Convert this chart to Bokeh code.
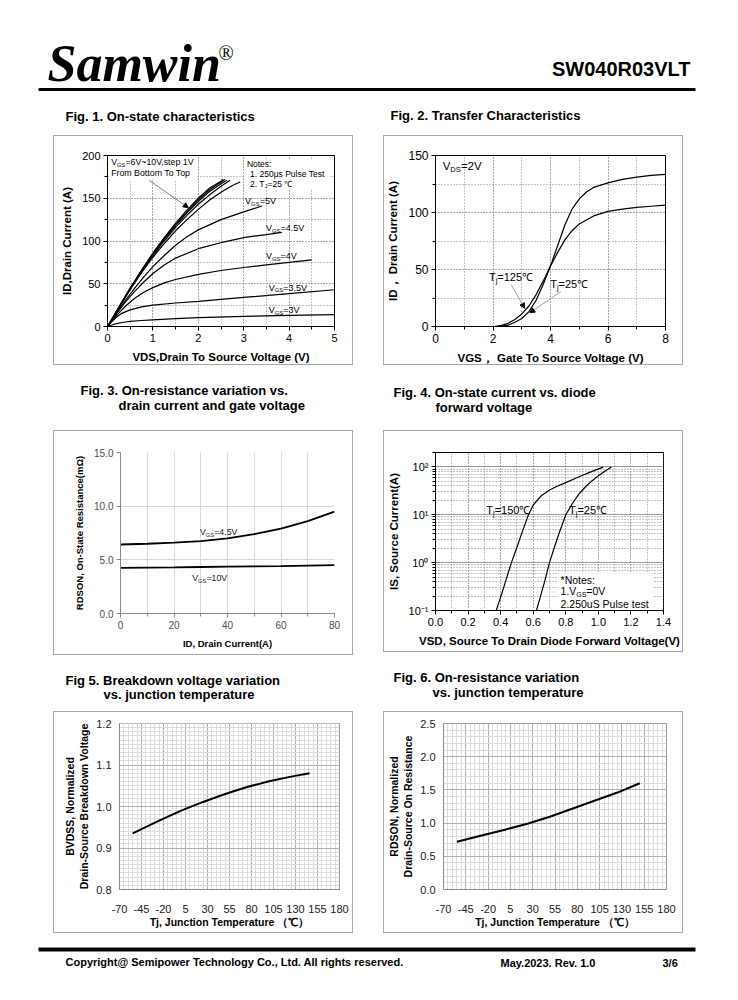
from bokeh.plotting import figure
from bokeh.layouts import column, row
from bokeh.models import (Range1d, Spacer, Arrow, NormalHead, SingleIntervalTicker, FixedTicker,
                          NumeralTickFormatter, CustomJSTickFormatter)
from bokeh.core.properties import value
from bokeh.embed import file_html
from bokeh.resources import INLINE

FONT = "Liberation Sans"

# ---------------- data ----------------
# Fig.1 On-state characteristics: VDS (V) vs ID (A)
f1_vgs3_vds = [0, 0.1, 0.2, 0.35, 0.5, 0.75, 1.0, 1.5, 2.0, 3.0, 4.0, 5.0]
f1_vgs3_id = [0, 1.8, 3.3, 5.0, 6.0, 7.0, 7.8, 9.2, 10.3, 11.8, 12.9, 13.8]
f1_vgs35_vds = [0, 0.1, 0.2, 0.3, 0.5, 0.75, 1.0, 1.5, 2.0, 3.0, 4.0, 5.0]
f1_vgs35_id = [0, 6, 11, 15, 19.5, 23, 25, 27.5, 29.5, 34, 38.5, 43]
f1_vgs4_vds = [0, 0.2, 0.4, 0.6, 0.8, 1.0, 1.25, 1.5, 2.0, 2.5, 3.0, 3.5, 4.0, 4.5]
f1_vgs4_id = [0, 13, 24, 33, 40, 45.5, 51, 55, 61, 65.5, 69, 72, 75, 78]
f1_vgs45_vds = [0, 0.2, 0.4, 0.6, 0.8, 1.0, 1.25, 1.5, 2.0, 2.5, 3.0, 3.5, 3.84]
f1_vgs45_id = [0, 15, 29, 41, 52, 62, 72, 80, 91, 98, 104, 107.5, 110]
f1_vgs5_vds = [0, 0.2, 0.4, 0.6, 0.8, 1.0, 1.25, 1.5, 1.75, 2.0, 2.5, 3.0, 3.4]
f1_vgs5_id = [0, 16, 31, 45, 58, 70, 83, 95, 105, 113, 125, 134, 141]
f1_vgs6_vds = [0, 0.25, 0.5, 0.75, 1.0, 1.25, 1.5, 1.75, 2.0, 2.25, 2.5, 2.75, 2.92]
f1_vgs6_id = [0, 22, 43, 63, 81, 97, 112, 125, 137, 148, 157, 165, 169]
f1_vgs7_vds = [0, 0.25, 0.5, 0.75, 1.0, 1.25, 1.5, 1.75, 2.0, 2.25, 2.5, 2.7]
f1_vgs7_id = [0, 22, 44, 64, 83, 100, 116, 130, 143, 154, 164, 171]
f1_vgs8_vds = [0, 0.25, 0.5, 0.75, 1.0, 1.25, 1.5, 1.75, 2.0, 2.25, 2.5, 2.63]
f1_vgs8_id = [0, 22, 44, 65, 84, 102, 118, 133, 146, 158, 167, 171]
f1_vgs9_vds = [0, 0.25, 0.5, 0.75, 1.0, 1.25, 1.5, 1.75, 2.0, 2.25, 2.5, 2.59]
f1_vgs9_id = [0, 22, 45, 65, 85, 103, 119, 134, 148, 160, 169, 172]
f1_vgs10_vds = [0, 0.25, 0.5, 0.75, 1.0, 1.25, 1.5, 1.75, 2.0, 2.25, 2.5, 2.55]
f1_vgs10_id = [0, 23, 45, 66, 86, 104, 121, 136, 150, 162, 170, 172]

# Fig.2 Transfer characteristics: VGS (V) vs ID (A)
f2_t25_vgs = [2.2, 2.5, 2.75, 3.0, 3.25, 3.5, 3.75, 4.0, 4.25, 4.5, 4.75, 5.0, 5.25, 5.5, 6.0, 6.5, 7.0, 7.5, 8.0]
f2_t25_id = [0, 1, 3.5, 7, 13, 23, 37, 53, 71, 89, 103, 112, 118, 122, 126, 129, 131, 132.5, 133.5]
f2_t125_vgs = [2.05, 2.3, 2.5, 2.75, 3.0, 3.25, 3.5, 3.75, 4.0, 4.25, 4.5, 4.75, 5.0, 5.5, 6.0, 6.5, 7.0, 7.5, 8.0]
f2_t125_id = [0, 1, 2.5, 6, 11, 18, 28, 40, 53, 65, 76, 84, 90, 97, 101, 103, 104.5, 105.5, 106.5]

# Fig.3 RDS(on) vs ID (mOhm)
f3_id = [0, 10, 20, 30, 40, 50, 60, 70, 80]
f3_r_vgs45 = [6.43, 6.5, 6.6, 6.75, 7.0, 7.4, 7.9, 8.6, 9.5]
f3_r_vgs10 = [4.25, 4.28, 4.3, 4.33, 4.36, 4.39, 4.42, 4.46, 4.5]

# Fig.4 Body diode forward: VSD (V) vs IS (A)
f4_t150_vsd = [0.373, 0.40, 0.43, 0.466, 0.50, 0.535, 0.568, 0.60, 0.65, 0.70, 0.75, 0.80, 0.85, 0.90, 0.95, 0.99, 1.03]
f4_t150_is = [0.1, 0.19, 0.4, 1.0, 2.1, 4.6, 9.5, 16, 25, 33, 40, 47, 56, 66, 78, 88, 99]
f4_t25_vsd = [0.62, 0.645, 0.67, 0.70, 0.73, 0.76, 0.80, 0.84, 0.88, 0.92, 0.96, 1.00, 1.04, 1.08]
f4_t25_is = [0.1, 0.2, 0.4, 1.0, 2.1, 4.2, 10, 17, 27, 38, 51, 65, 81, 99]
f4_xticks = [0.0, 0.2, 0.4, 0.6, 0.8, 1.0, 1.2, 1.4]

# Fig.5 / Fig.6 vs junction temperature
f5_tj = [-55, -25, 0, 25, 50, 75, 100, 125, 146]
f5_bv = [0.935, 0.966, 0.990, 1.011, 1.030, 1.047, 1.061, 1.072, 1.080]
f6_tj = [-55, -25, 0, 25, 50, 75, 100, 125, 150]
f6_r = [0.72, 0.82, 0.905, 0.995, 1.10, 1.22, 1.34, 1.46, 1.60]

tj_ticks = [-70, -45, -20, 5, 30, 55, 80, 105, 130, 155, 180]
f5_yticks = [0.8, 0.9, 1.0, 1.1, 1.2]
f6_yticks = [0.0, 0.5, 1.0, 1.5, 2.0, 2.5]

# ---------------- helpers ----------------
AW = {' ': .278, '.': .278, ',': .278, '=': .584, '~': .584, '-': .333, '(': .333, ')': .333,
      '*': .389, ':': .278, 'V': .667, 'T': .611, 'I': .278, 'G': .778, 'S': .667, 'D': .722,
      'J': .5, 'j': .222, 'i': .222, 'l': .222, 'f': .278, 't': .278, 'r': .333, 'm': .833,
      'w': .722, 's': .5, 'c': .5, 'k': .5, 'v': .5, 'x': .5, 'y': .5, 'z': .5}


def twidth(s, size):
    return sum(AW.get(ch, 0.556) for ch in s) * size


def rich(p, x, y, parts, size=10, color="black", sub_scale=0.66):
    off = 0.0
    for txt, is_sub in parts:
        fs = size * sub_scale if is_sub else size
        p.text(x=[x], y=[y], text=[txt], text_font=value(FONT), text_font_size=f"{fs:.1f}px",
               text_color=color, text_baseline="middle", text_align="left",
               x_offset=off, y_offset=(size * 0.3 if is_sub else 0))
        off += twidth(txt, fs)


def band(y0, y1):
    p = figure(width=722, height=y1 - y0, x_range=Range1d(0, 722), y_range=Range1d(y1, y0),
               output_backend="svg", toolbar_location=None,
               x_axis_location=None, y_axis_location=None,
               min_border=0, min_border_left=0, min_border_right=0,
               min_border_top=0, min_border_bottom=0)
    p.xgrid.visible = False
    p.ygrid.visible = False
    p.outline_line_color = None
    p.background_fill_color = None
    p.border_fill_color = None
    return p


def btext(p, x, y, s, size, style="bold", font=FONT, align="left"):
    p.text(x=[x], y=[y], text=[s], text_font=value(font), text_font_size=f"{size}px",
           text_font_style=style, text_color="black", text_align=align, text_baseline="middle")


def chart(w, h, left, right, top, bottom, xr, yr, y_type="linear"):
    p = figure(width=w, height=h, x_range=xr, y_range=yr, y_axis_type=y_type,
               output_backend="svg", toolbar_location=None,
               min_border_left=left, min_border_right=right,
               min_border_top=top, min_border_bottom=bottom)
    p.border_fill_color = None
    p.background_fill_color = "white"
    p.styles = {"border": "1px solid #a8a8a8", "box-sizing": "border-box"}
    return p


def style_axes(p, tick_size, label_size, tick_color="black", axis_color="black",
               tick_out=4, minor_out=3):
    for ax in p.axis:
        ax.axis_label_text_font = FONT
        ax.axis_label_text_font_style = "bold"
        ax.axis_label_text_font_size = label_size
        ax.axis_label_text_color = "black"
        ax.major_label_text_font = FONT
        ax.major_label_text_font_size = tick_size
        ax.major_label_text_color = tick_color
        ax.axis_line_color = axis_color
        ax.major_tick_line_color = axis_color
        ax.minor_tick_line_color = axis_color
        ax.major_tick_in = 0
        ax.major_tick_out = tick_out
        ax.minor_tick_in = 0
        ax.minor_tick_out = minor_out
        ax.major_label_standoff = 3
        ax.axis_label_standoff = 6


def dotted_grid(p, color="#8a8a8a"):
    for g in (p.xgrid[0], p.ygrid[0]):
        g.grid_line_color = color
        g.grid_line_dash = "1 2"
        g.minor_grid_line_color = color
        g.minor_grid_line_dash = "1 2"


# ---------------- Fig 1 ----------------
f1 = chart(300, 230, 53, 20, 19, 39, Range1d(0, 5), Range1d(0, 200))
f1.xaxis.ticker = SingleIntervalTicker(interval=1, num_minor_ticks=2)
f1.yaxis.ticker = SingleIntervalTicker(interval=50, num_minor_ticks=2)
f1.xaxis.axis_label = "VDS,Drain To Source Voltage (V)"
f1.yaxis.axis_label = "ID,Drain Current (A)"
style_axes(f1, "11px", "11.5px")
dotted_grid(f1)
f1.outline_line_color = "black"
f1.quad(left=[0.03], right=[1.95], bottom=[172], top=[198], fill_color="white", line_color=None)
f1.quad(left=[3.02], right=[4.9], bottom=[161], top=[196], fill_color="white", line_color=None)
for xs, ys in [(f1_vgs3_vds, f1_vgs3_id), (f1_vgs35_vds, f1_vgs35_id), (f1_vgs4_vds, f1_vgs4_id),
               (f1_vgs45_vds, f1_vgs45_id), (f1_vgs5_vds, f1_vgs5_id), (f1_vgs6_vds, f1_vgs6_id),
               (f1_vgs7_vds, f1_vgs7_id), (f1_vgs8_vds, f1_vgs8_id), (f1_vgs9_vds, f1_vgs9_id),
               (f1_vgs10_vds, f1_vgs10_id)]:
    f1.line(xs, ys, line_color="black", line_width=1.2)
rich(f1, 0.08, 192.5, [("V", False), ("GS", True), ("=6V~10V,step 1V", False)], 8.8)
rich(f1, 0.08, 179, [("From Bottom To Top", False)], 8.8)
rich(f1, 3.07, 189.5, [("Notes:", False)], 8.5)
rich(f1, 3.14, 178.6, [("1. 250\u03bcs  Pulse Test", False)], 8.5)
rich(f1, 3.14, 167, [("2. T", False), ("J", True), ("=25 \u2103", False)], 8.5)
rich(f1, 3.03, 146.7, [("V", False), ("GS", True), ("=5V", False)], 9)
rich(f1, 3.49, 114.8, [("V", False), ("GS", True), ("=4.5V", False)], 9)
rich(f1, 3.49, 82.5, [("V", False), ("GS", True), ("=4V", False)], 9)
rich(f1, 3.55, 45.5, [("V", False), ("GS", True), ("=3.5V", False)], 9)
rich(f1, 3.55, 19.5, [("V", False), ("GS", True), ("=3V", False)], 9)
f1.add_layout(Arrow(end=NormalHead(size=5, fill_color="black", line_color="black"),
                    x_start=0.92, y_start=170.8, x_end=1.78, y_end=139,
                    line_color="#808080", line_width=1))

# ---------------- Fig 2 ----------------
f2 = chart(300, 230, 50, 19, 19, 39, Range1d(0, 8), Range1d(0, 150))
f2.xaxis.ticker = SingleIntervalTicker(interval=2, num_minor_ticks=2)
f2.yaxis.ticker = SingleIntervalTicker(interval=50, num_minor_ticks=2)
f2.xaxis.axis_label = "VGS\uff0c Gate To Source Voltage (V)"
f2.yaxis.axis_label = "ID\uff0c Drain Current (A)"
style_axes(f2, "12px", "11.5px")
dotted_grid(f2)
f2.outline_line_color = "black"
f2.line(f2_t25_vgs, f2_t25_id, line_color="black", line_width=1.2)
f2.line(f2_t125_vgs, f2_t125_id, line_color="black", line_width=1.2)
rich(f2, 0.25, 140.4, [("V", False), ("DS", True), ("=2V", False)], 11.5)
rich(f2, 1.86, 43.4, [("T", False), ("j", True), ("=125\u2103", False)], 11)
rich(f2, 3.99, 37, [("T", False), ("j", True), ("=25\u2103", False)], 11)
f2.add_layout(Arrow(end=NormalHead(size=5, fill_color="black", line_color="black"),
                    x_start=2.64, y_start=36.4, x_end=3.1, y_end=16,
                    line_color="#a0a0a0", line_width=1))
f2.add_layout(Arrow(end=NormalHead(size=5, fill_color="black", line_color="black"),
                    x_start=4.36, y_start=30.6, x_end=3.28, y_end=12,
                    line_color="#a0a0a0", line_width=1))

# ---------------- Fig 3 ----------------
f3 = chart(300, 225, 66, 20, 21, 43, Range1d(0, 80), Range1d(0, 15))
f3.xaxis.ticker = SingleIntervalTicker(interval=20, num_minor_ticks=2)
f3.yaxis.ticker = SingleIntervalTicker(interval=5, num_minor_ticks=1)
f3.yaxis.formatter = NumeralTickFormatter(format="0.0")
f3.xaxis.axis_label = "ID, Drain Current(A)"
f3.yaxis.axis_label = "RDSON, On-State Resistance(m\u03a9)"
style_axes(f3, "10px", "9.5px", tick_color="#505050", axis_color="#8c8c8c")
f3.yaxis.minor_tick_line_color = None
for g in (f3.xgrid[0], f3.ygrid[0]):
    g.grid_line_color = "#d9d9d9"
f3.xgrid.minor_grid_line_color = "#d9d9d9"
f3.outline_line_color = None
f3.line(f3_id, f3_r_vgs45, line_color="black", line_width=1.8)
f3.line(f3_id, f3_r_vgs10, line_color="black", line_width=1.8)
rich(f3, 29.7, 7.6, [("V", False), ("GS", True), ("=4.5V", False)], 8.8, color="#222222")
rich(f3, 26.8, 3.3, [("V", False), ("GS", True), ("=10V", False)], 8.8, color="#222222")

# ---------------- Fig 4 ----------------
f4 = chart(300, 222, 51, 21, 14, 38, Range1d(0, 1.4), Range1d(0.1, 200), y_type="log")
f4.xaxis.ticker = FixedTicker(ticks=f4_xticks, minor_ticks=[0.1 * i for i in range(15)])
f4.xaxis.formatter = NumeralTickFormatter(format="0.0")
f4.yaxis.formatter = CustomJSTickFormatter(code="""
const e = Math.round(Math.log10(tick));
const m = {'-': '\u207b', '0': '\u2070', '1': '\u00b9', '2': '\u00b2', '3': '\u00b3'};
return '10' + String(e).split('').map(c => m[c]).join('');
""")
f4.xaxis.axis_label = "VSD, Source To Drain Diode Forward Voltage(V)"
f4.yaxis.axis_label = "IS, Source Current(A)"
style_axes(f4, "11px", "11.5px")
f4.xgrid.grid_line_color = "#8a8a8a"
f4.xgrid.grid_line_dash = "1 2"
f4.xgrid.minor_grid_line_color = "#8a8a8a"
f4.xgrid.minor_grid_line_dash = "1 2"
f4.ygrid.grid_line_color = "#9a9a9a"
f4.ygrid.minor_grid_line_color = "#8a8a8a"
f4.ygrid.minor_grid_line_dash = "1 2"
f4.outline_line_color = "black"
f4.quad(left=[0.755], right=[1.34], bottom=[0.105], top=[0.6], fill_color="white", line_color=None)
f4.line(f4_t150_vsd, f4_t150_is, line_color="black", line_width=1.2)
f4.line(f4_t25_vsd, f4_t25_is, line_color="black", line_width=1.2)
rich(f4, 0.312, 12.4, [("T", False), ("j", True), ("=150\u2103", False)], 11)
rich(f4, 0.82, 12.4, [("T", False), ("j", True), ("=25\u2103", False)], 11)
rich(f4, 0.768, 0.425, [("*Notes:", False)], 10.5)
rich(f4, 0.768, 0.252, [("1.V", False), ("GS", True), ("=0V", False)], 10.5)
rich(f4, 0.768, 0.139, [("2.250uS Pulse test", False)], 10.5)


# ---------------- Fig 5 / Fig 6 ----------------
def temp_chart(left, right, top, bottom, yr, yticks, yminor, ylabel):
    p = chart(300, 222, left, right, top, bottom, Range1d(-70, 180), yr)
    p.xaxis.ticker = FixedTicker(ticks=tj_ticks, minor_ticks=list(range(-70, 181, 5)))
    p.xaxis.formatter = NumeralTickFormatter(format="0")
    p.yaxis.ticker = FixedTicker(ticks=yticks, minor_ticks=yminor)
    p.yaxis.formatter = NumeralTickFormatter(format="0.0")
    p.xaxis.axis_label = "Tj, Junction Temperature \uff08\u2103\uff09"
    p.yaxis.axis_label = ylabel
    style_axes(p, "11px", "10.5px", tick_color="#222222", axis_color="#8c8c8c", tick_out=0, minor_out=0)
    p.xaxis.major_label_standoff = 15
    p.xaxis.axis_label_standoff = 0
    p.yaxis.major_label_standoff = 8
    p.yaxis.axis_label_standoff = 3
    for g in (p.xgrid[0], p.ygrid[0]):
        g.grid_line_color = "#b0b0b0"
        g.minor_grid_line_color = "#dcdcdc"
    p.outline_line_color = "#9a9a9a"
    return p


f5 = temp_chart(65, 15, 9, 45, Range1d(0.8, 1.2), f5_yticks,
                [0.8 + 0.01 * i for i in range(41)],
                "BVDSS, Normalized\nDrain-Source Breakdown Voltage")
f5.line(f5_tj, f5_bv, line_color="black", line_width=2)

f6 = temp_chart(58, 18, 11, 44, Range1d(0, 2.5), f6_yticks,
                [0.1 * i for i in range(26)],
                "RDSON, Normalized\nDrain-Source On Resistance")
f6.line(f6_tj, f6_r, line_color="black", line_width=2)

# ---------------- page bands ----------------
hdr = band(0, 135)
btext(hdr, 47, 63, "Samwin", 52, style="bold italic", font="Liberation Serif")
btext(hdr, 218, 52, "\u00ae", 20, style="normal", font="Liberation Serif")
btext(hdr, 690, 68, "SW040R03VLT", 20, align="right")
hdr.line([38, 695], [89, 89], line_color="black", line_width=3)
btext(hdr, 65, 116, "Fig. 1. On-state characteristics", 13)
btext(hdr, 390, 115, "Fig. 2. Transfer Characteristics", 13)

b2 = band(365, 430)
btext(b2, 80, 390, "Fig. 3. On-resistance variation vs.", 13)
btext(b2, 118, 405, "drain current and gate voltage", 13)
btext(b2, 393, 392, "Fig. 4. On-state current vs. diode", 13)
btext(b2, 435, 407, "forward voltage", 13)

b3 = band(655, 711)
btext(b3, 65, 680, "Fig 5. Breakdown voltage variation", 13)
btext(b3, 103, 694, "vs. junction temperature", 13)
btext(b3, 393, 677, "Fig. 6. On-resistance variation", 13)
btext(b3, 432, 692, "vs. junction temperature", 13)

ftr = band(933, 992)
ftr.line([38, 695], [949, 949], line_color="black", line_width=4)
btext(ftr, 65, 961, "Copyright@ Semipower Technology Co., Ltd. All rights reserved.", 11)
btext(ftr, 500, 962, "May.2023. Rev. 1.0", 11)
btext(ftr, 662, 962, "3/6", 11)

layout = column(
    hdr,
    row(Spacer(width=53, height=230), f1, Spacer(width=30, height=230), f2),
    b2,
    row(Spacer(width=53, height=225), f3, Spacer(width=30, height=225), f4),
    b3,
    row(Spacer(width=53, height=222), f5, Spacer(width=30, height=222), f6),
    ftr,
)

open("out.html", "w").write(file_html(layout, INLINE))
